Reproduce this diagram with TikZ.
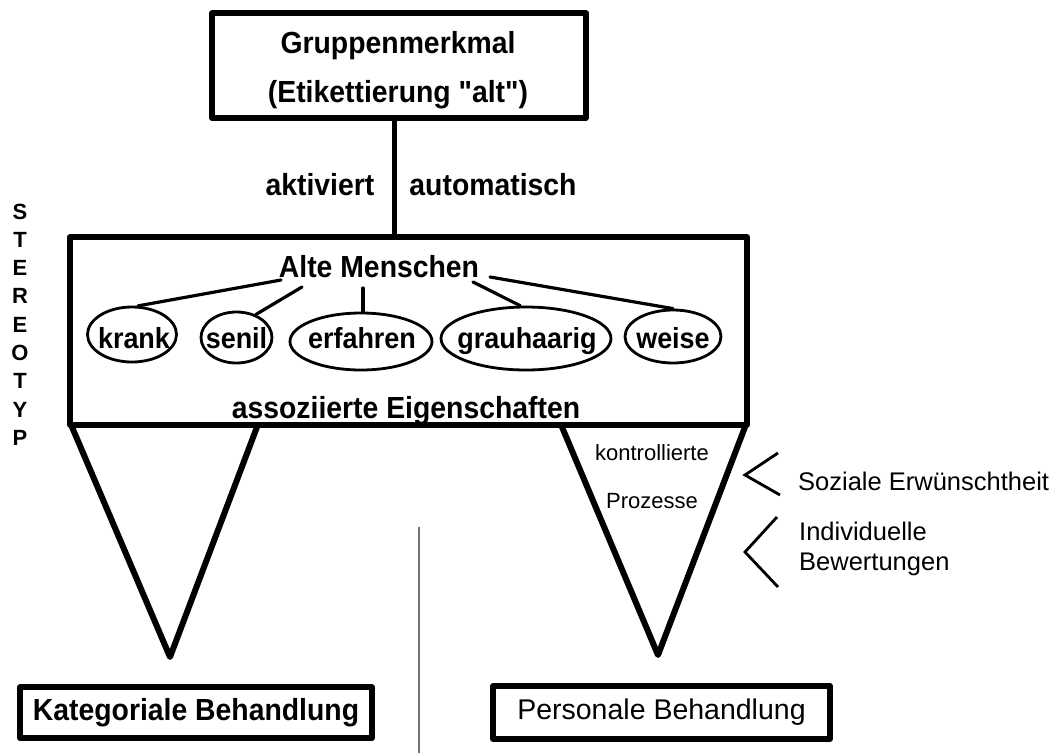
\documentclass[tikz,border=0pt]{standalone}
\usepackage{fontspec}
\setmainfont{Liberation Sans}
\newfontfamily\narrowsans{Liberation Sans}[FakeStretch=0.93]
\usetikzlibrary{shapes.geometric}
\begin{document}
\begin{tikzpicture}[x=1pt,y=-1pt,
  box/.style={draw, line width=5.5pt, line join=round, inner sep=0pt},
  bt/.style={font=\narrowsans\fontsize{30.5}{36}\selectfont\bfseries, anchor=base, inner sep=0pt},
  wt/.style={font=\narrowsans\fontsize{29}{34}\selectfont\bfseries, anchor=base, inner sep=0pt},
  st/.style={font=\fontsize{22}{26}\selectfont\bfseries, anchor=base, inner sep=0pt},
  rt/.style={font=\fontsize{25.5}{30}\selectfont, anchor=base west, inner sep=0pt},
  kt/.style={font=\fontsize{22}{26}\selectfont, anchor=base, inner sep=0pt},
  ell/.style={draw, ellipse, line width=2.8pt, inner sep=0pt},
  link/.style={line width=3.2pt, line cap=round},
  tri/.style={line width=6pt, line join=round},
  chev/.style={line width=2.8pt, line join=miter},
  thin/.style={line width=1.3pt, draw=black!55}]
\useasboundingbox (0,0) rectangle (1058,753);

% top box
\node[box, minimum width=374pt, minimum height=105pt] (grp) at (399,65.5) {};
\node[bt] (g1) at (398,53) {Gruppenmerkmal};
\node[bt] (g2) at (398,102) {(Etikettierung \char34 alt\char34 )};

% stereotype box
\node[box, minimum width=677pt, minimum height=188pt] (ster) at (408.5,331) {};

% connector
\coordinate (vx) at (394,0);
\draw[line width=5pt] (grp.south -| vx) -- (ster.north -| vx);
\node[bt] (akt) at (320,195) {aktiviert};
\node[bt] (aut) at (493,195) {automatisch};

% STEREOTYP
\foreach \l [count=\i from 0] in {S,T,E,R,E,O,T,Y,P}
  \node[st] (st\i) at (20,219+28.3*\i) {\l};

% inside
\node[bt] (am) at (379,277) {Alte Menschen};
\node[ell, minimum width=89pt, minimum height=55pt] (e1) at (132,334.5) {};
\node[ell, minimum width=71pt, minimum height=51pt] (e2) at (236.5,337.5) {};
\node[ell, minimum width=142pt, minimum height=57pt] (e3) at (361,341.5) {};
\node[ell, minimum width=170pt, minimum height=63pt] (e4) at (526,338.5) {};
\node[ell, minimum width=96pt, minimum height=53pt] (e5) at (673,336.5) {};
\node[wt] (w1) at (134,348) {krank};
\node[wt] (w2) at (236.5,348) {senil};
\node[wt] (w3) at (362,348) {erfahren};
\node[wt] (w4) at (527,348) {grauhaarig};
\node[wt] (w5) at (673,348) {weise};

\coordinate (a1) at (281,280);
\coordinate (a2) at (302,287);
\coordinate (a3) at (363,288);
\coordinate (a4) at (473,282);
\coordinate (a5) at (490,277);
\draw[link] (a1) -- (e1.78);
\draw[link] (a2) -- (e2.50);
\draw[link] (a3) -- (e3.north -| a3);
\draw[link] (a4) -- (e4.100);
\draw[link] (a5) -- (e5.north);

\node[bt] (ae) at (406,418) {assoziierte Eigenschaften};

% triangles
\draw[tri] (72,427) -- (170,657) -- (257,427);
\draw[tri] (562,427) -- (658,655) -- (745,427);
\node[kt] (k1) at (652,460) {kontrollierte};
\node[kt] (k2) at (652,508) {Prozesse};

% chevrons and labels
\draw[chev] (778,453) -- (745,475) -- (780,495);
\draw[chev] (777,517) -- (745,552) -- (778,587);
\node[rt] (so) at (798,490) {Soziale Erwünschtheit};
\node[rt] (in) at (799,540) {Individuelle};
\node[rt] (bw) at (799,570) {Bewertungen};

% divider
\coordinate (d1) at (419,527);
\coordinate (d2) at (419,753);
\draw[thin] (d1) -- (d2);

% bottom boxes
\node[box, minimum width=352pt, minimum height=51pt, font=\narrowsans\fontsize{30.5}{36}\selectfont\bfseries] (kat) at (196,712.5) {Kategoriale Behandlung};
\node[box, minimum width=337pt, minimum height=53pt, font=\fontsize{28.5}{34}\selectfont] (pers) at (661.5,712.5) {Personale Behandlung};
\end{tikzpicture}
\end{document}
